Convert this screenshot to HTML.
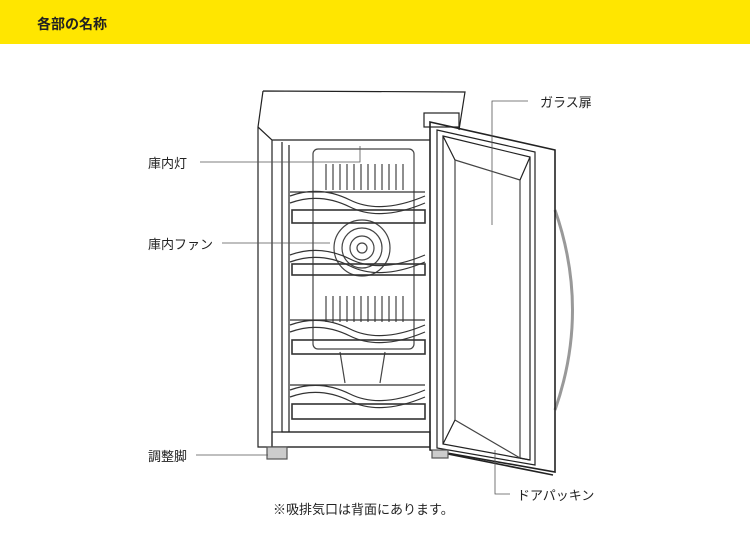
<!DOCTYPE html>
<html><head><meta charset="utf-8"><style>
body{margin:0;width:750px;height:550px;background:#fff;overflow:hidden;font-family:"Liberation Sans","Noto Sans CJK JP",sans-serif}
.hd{position:absolute;left:0;top:0;width:750px;height:44px;background:#FFE600}
.t{position:absolute;font-size:13px;color:#222;white-space:nowrap}
</style></head><body>
<div class="hd"></div>
<div class="t" style="left:37px;top:14px;font-size:14px;font-weight:bold">各部の名称</div>
<svg style="position:absolute;left:0;top:0" width="750" height="550" fill="none" stroke="#222" stroke-width="1.2">
<path d="M555 210 Q590 310 555 410" stroke="#999" stroke-width="3"/>
<path d="M263 91 L465 92 L459 130 M263 91 L258 127 L258 447 L430 447"/>
<path d="M258 127 L272 140 L272 447 M272 140 L430 140 M282 142 L282 432 L430 432 M289 145 L289 432"/>
<rect x="272" y="432" width="158" height="15"/>
<rect x="424" y="113" width="35" height="14" fill="#fff"/>
<rect x="313" y="149" width="101" height="200" rx="5" stroke="#444"/>
<g stroke="#444">
<path d="M326 164 v26 M333 164 v26 M340 164 v26 M347 164 v26 M354 164 v26 M361 164 v26 M368 164 v26 M375 164 v26 M382 164 v26 M389 164 v26 M396 164 v26 M403 164 v26"/>
<path d="M326 296 v26 M333 296 v26 M340 296 v26 M347 296 v26 M354 296 v26 M361 296 v26 M368 296 v26 M375 296 v26 M382 296 v26 M389 296 v26 M396 296 v26 M403 296 v26"/>
<circle cx="362" cy="248" r="28"/><circle cx="362" cy="248" r="20"/><circle cx="362" cy="248" r="12"/><circle cx="362" cy="248" r="5"/>
<path d="M340 352 L345 383 M385 352 L380 383"/>
</g>
<g stroke="#333">
<path d="M290 196 Q320 185 350 200 T425 196 M290 203 Q320 192 350 207 T425 203 M290 192 h135"/>
<rect x="292" y="210" width="133" height="13" stroke-width="1.6"/>
<path d="M290 255 Q320 244 350 259 T425 255 M290 262 Q320 251 350 266 T425 262"/>
<rect x="292" y="264" width="133" height="11" stroke-width="1.6"/>
<path d="M290 325 Q320 314 350 329 T425 325 M290 332 Q320 321 350 336 T425 332 M290 320 h135"/>
<rect x="292" y="340" width="133" height="14" stroke-width="1.6"/>
<path d="M290 390 Q320 379 350 394 T425 390 M290 397 Q320 386 350 401 T425 397 M290 385 h135"/>
<rect x="292" y="404" width="133" height="15" stroke-width="1.6"/>
</g>
<path d="M430 122 L555 150 L555 472 L430 450 Z" stroke-width="1.6"/>
<path d="M437 130 L535 152 L535 465 L437 448 Z"/>
<path d="M443 136 L530 157 L530 460 L443 444 Z"/>
<path d="M455 160 L520 180 L520 458 L455 420 Z" stroke="#444"/>
<path d="M443 136 L455 160 M530 157 L520 180 M530 460 L520 458 M443 444 L455 420"/>
<path d="M438 452 L553 475" stroke-width="1.6"/>
<rect x="267" y="447" width="20" height="12" fill="#ccc" stroke="#555"/>
<rect x="432" y="450" width="16" height="8" fill="#ccc" stroke="#555"/>
<g stroke="#555" stroke-width="0.8">
<path d="M200 162 H360 V146"/>
<path d="M222 243 H330"/>
<path d="M196 455 H268"/>
<path d="M528 101 H492 V225"/>
<path d="M495 450 V494 H510"/>
</g>
</svg>
<div class="t" style="left:148px;top:153px">庫内灯</div>
<div class="t" style="left:148px;top:234px">庫内ファン</div>
<div class="t" style="left:148px;top:446px">調整脚</div>
<div class="t" style="left:540px;top:92px">ガラス扉</div>
<div class="t" style="left:517px;top:485px">ドアパッキン</div>
<div class="t" style="left:273px;top:499px">※吸排気口は背面にあります。</div>
</body></html>
